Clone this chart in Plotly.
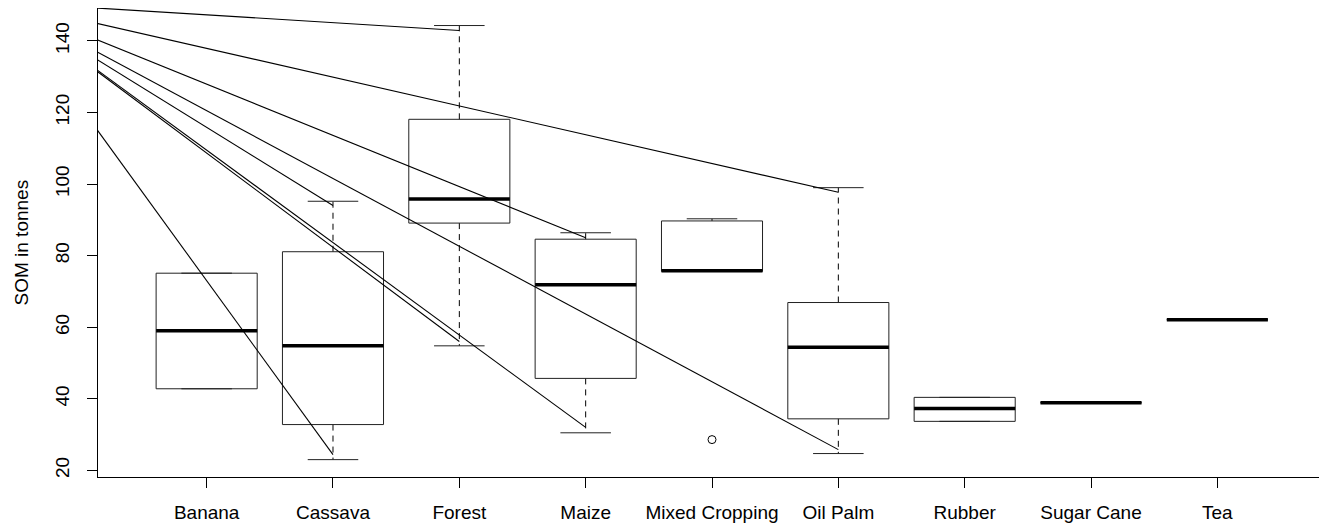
import plotly.graph_objects as go

# ---------------- data ----------------
categories = ["Banana", "Cassava", "Forest", "Maize", "Mixed Cropping",
              "Oil Palm", "Rubber", "Sugar Cane", "Tea"]
whisker_low = [42.8, 23.0, 54.8, 30.5, 75.6, 24.7, 33.7, 38.9, 62.1]
q1 = [42.8, 32.8, 89.1, 45.7, 75.6, 34.4, 33.7, 38.9, 62.1]
median = [59.0, 54.8, 95.8, 71.9, 75.8, 54.4, 37.3, 38.9, 62.1]
q3 = [75.1, 81.1, 118.1, 84.6, 89.7, 66.9, 40.4, 38.9, 62.1]
whisker_high = [75.1, 95.2, 144.3, 86.4, 90.3, 99.0, 40.4, 38.9, 62.1]

outlier_cat = ["Mixed Cropping"]
outlier_val = [28.6]

# stray line segments (start point lies outside the plotting region)
line_start_x = [-0.6] * 8
line_start_y = [150.8] * 8
line_end_cat = ["Forest", "Oil Palm", "Maize", "Oil Palm",
                "Cassava", "Forest", "Maize", "Cassava"]
line_end_val = [142.9, 97.7, 85.0, 25.8, 94.0, 56.0, 32.0, 24.4]

y_ticks = [20, 40, 60, 80, 100, 120, 140]

# ---------------- style ----------------
BOX_HALF = 0.4      # boxwex 0.8
CAP_HALF = 0.2      # staplewex 0.5
FONT = "Liberation Sans, Arial, Helvetica, sans-serif"
FS = 19

pos = {c: i + 1 for i, c in enumerate(categories)}

box_x, box_y = [], []
med_x, med_y = [], []
wh_x, wh_y = [], []
cap_x, cap_y = [], []
for c, lo, a, m, b, hi in zip(categories, whisker_low, q1, median, q3, whisker_high):
    p = pos[c]
    box_x += [p - BOX_HALF, p + BOX_HALF, p + BOX_HALF, p - BOX_HALF, p - BOX_HALF, None]
    box_y += [a, a, b, b, a, None]
    med_x += [p - BOX_HALF, p + BOX_HALF, None]
    med_y += [m, m, None]
    if hi > b:
        wh_x += [p, p, None]
        wh_y += [b, hi, None]
    if lo < a:
        wh_x += [p, p, None]
        wh_y += [a, lo, None]
    cap_x += [p - CAP_HALF, p + CAP_HALF, None, p - CAP_HALF, p + CAP_HALF, None]
    cap_y += [hi, hi, None, lo, lo, None]

seg_x, seg_y = [], []
for sx, sy, c, v in zip(line_start_x, line_start_y, line_end_cat, line_end_val):
    seg_x += [sx, pos[c], None]
    seg_y += [sy, v, None]

fig = go.Figure()
fig.add_trace(go.Scatter(x=wh_x, y=wh_y, mode="lines",
                         line=dict(color="black", width=1, dash="6px,5px"),
                         hoverinfo="skip"))
fig.add_trace(go.Scatter(x=cap_x, y=cap_y, mode="lines",
                         line=dict(color="#222", width=1), hoverinfo="skip"))
fig.add_trace(go.Scatter(x=box_x, y=box_y, mode="lines",
                         line=dict(color="#222", width=1), hoverinfo="skip"))
fig.add_trace(go.Scatter(x=med_x, y=med_y, mode="lines",
                         line=dict(color="black", width=3.5), hoverinfo="skip"))
fig.add_trace(go.Scatter(x=[pos[c] for c in outlier_cat], y=outlier_val, mode="markers",
                         marker=dict(symbol="circle-open", size=8, color="black",
                                     line=dict(width=1, color="black")),
                         hoverinfo="skip"))
fig.add_trace(go.Scatter(x=seg_x, y=seg_y, mode="lines",
                         line=dict(color="black", width=1.1), hoverinfo="skip"))

# the page body has an 8px default margin, so the figure is sized/offset for it
fig.update_layout(
    width=1319, height=521,
    margin=dict(l=90, r=1, t=0, b=52),
    paper_bgcolor="white", plot_bgcolor="white",
    showlegend=False,
    font=dict(family=FONT, size=FS, color="black"),
    xaxis=dict(range=[0.14, 9.86], tickmode="array",
               tickvals=[pos[c] for c in categories], ticktext=categories,
               ticks="outside", ticklen=10, tickcolor="black", tickwidth=1,
               showline=True, mirror=True, linecolor="black", linewidth=1,
               showgrid=False, zeroline=False, ticklabelstandoff=8,
               tickfont=dict(family=FONT, size=FS, color="black")),
    yaxis=dict(range=[18.15, 149.2], tickmode="array", tickvals=y_ticks,
               ticks="outside", ticklen=10, tickcolor="black", tickwidth=1,
               tickangle=-90,
               showline=True, mirror=True, linecolor="black", linewidth=1,
               showgrid=False, zeroline=False, ticklabelstandoff=10,
               tickfont=dict(family=FONT, size=FS, color="black")),
    annotations=[dict(text="SOM in tonnes", xref="paper", yref="paper",
                      x=0, y=0.5, xshift=-77, textangle=-90, showarrow=False,
                      xanchor="center", yanchor="middle",
                      font=dict(family=FONT, size=FS, color="black"))],
)

fig.write_html("out.html")
